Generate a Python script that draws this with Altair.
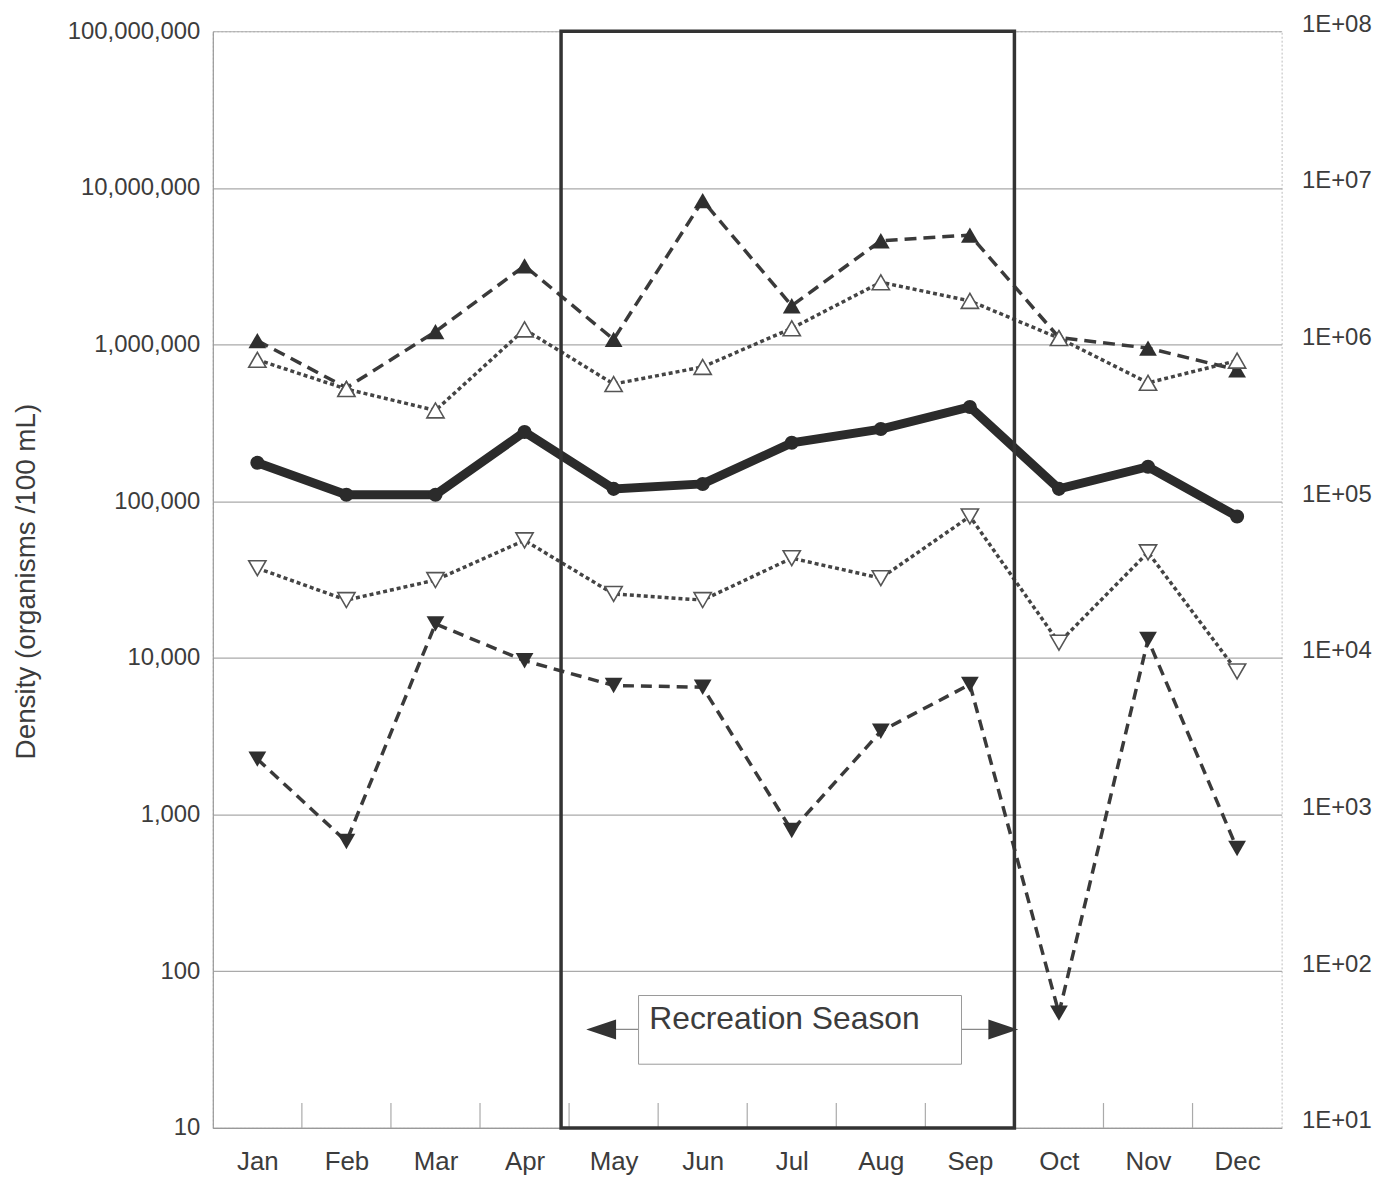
import altair as alt
import pandas as pd

# ---------------- data ----------------
months = ["Jan", "Feb", "Mar", "Apr", "May", "Jun", "Jul", "Aug", "Sep", "Oct", "Nov", "Dec"]
up_filled = [1.06e6, 5.3e5, 1.21e6, 3.18e6, 1.08e6, 8.3e6, 1.77e6, 4.6e6, 5.0e6, 1.11e6, 9.5e5, 6.9e5]
up_open = [8.0e5, 5.2e5, 3.8e5, 1.25e6, 5.6e5, 7.2e5, 1.27e6, 2.5e6, 1.9e6, 1.1e6, 5.7e5, 7.9e5]
mean_line = [1.76e5, 1.1e5, 1.1e5, 2.77e5, 1.2e5, 1.29e5, 2.36e5, 2.89e5, 4.0e5, 1.2e5, 1.66e5, 8.0e4]
down_open = [3.74e4, 2.34e4, 3.14e4, 5.63e4, 2.56e4, 2.34e4, 4.33e4, 3.23e4, 8.0e4, 1.25e4, 4.72e4, 8.2e3]
down_filled = [2260, 673, 16500, 9600, 6670, 6500, 791, 3400, 6770, 54, 13100, 607]

y_ticks = [10, 100, 1000, 10000, 100000, 1000000, 10000000, 100000000]
season_label = "Recreation Season"

# annotation geometry (in month-index / data units)
season_box = {"x": 3.41, "x2": 8.5, "y": 10, "y2": 1e8}
label_box = {"x": 4.28, "x2": 7.906, "y": 25.5, "y2": 70}
label_text = {"x": 4.40, "y": 43}
arrow_y = 42.5
arrow_left = {"tip": 3.86, "box": 4.28}
arrow_right = {"tip": 8.375, "box": 7.906}
tick_pos = [i + 0.5 for i in range(11)]

W, H = 1075, 1103
PAD = {"left": 206, "top": 20, "right": 107, "bottom": 50}

idx = list(range(len(months)))


def frame(vals):
    return pd.DataFrame({"idx": idx, "month": months, "value": vals})


xscale = alt.Scale(domain=[-0.5, 11.5], nice=False, zero=False)
yscale = alt.Scale(type="log", domain=[10, 1e8], nice=False)

month_expr = "[" + ",".join("'%s'" % m for m in months) + "][round(datum.value)]"

x_axis = alt.Axis(
    values=idx, labelExpr=month_expr, ticks=False, grid=False,
    domainColor="#999", domainWidth=1.2, labelFontSize=26, labelColor="#3c3c3c",
    labelPadding=21, title=None)
y_axis = alt.Axis(
    values=y_ticks, format=",.0f", grid=True, gridColor="#aaa", gridWidth=1.2,
    ticks=False, domainColor="#999", domainWidth=1.2, labelFontSize=24,
    labelColor="#3c3c3c", labelPadding=13,
    title="Density (organisms /100 mL)", titleFontSize=28, titleFontWeight="normal",
    titleColor="#3c3c3c", titleAngle=270, titleX=-187, titleY=553,
    titleAlign="center", titleBaseline="middle")


def X(field="idx:Q"):
    return alt.X(field, scale=xscale, axis=x_axis)


def Y(field="value:Q"):
    return alt.Y(field, scale=yscale, axis=y_axis)


# inward tick marks on the month axis (band boundaries)
ticks = alt.Chart(pd.DataFrame({"t": tick_pos})).mark_rule(color="#aaa", strokeWidth=1.2).encode(
    x=X("t:Q"), y=alt.value(H), y2=alt.value(H - 25))


def line_layer(vals, dash, width, color):
    kw = dict(color=color, strokeWidth=width)
    if dash:
        kw["strokeDash"] = dash
    return alt.Chart(frame(vals)).mark_line(**kw).encode(x=X(), y=Y())


def point_layer(vals, shape, filled, size, color):
    if filled:
        mk = alt.Chart(frame(vals)).mark_point(shape=shape, filled=True, size=size,
                                               color=color, opacity=1)
    else:
        mk = alt.Chart(frame(vals)).mark_point(shape=shape, filled=True, size=size,
                                               fill="white", stroke="#555",
                                               strokeWidth=1.6, opacity=1)
    return mk.encode(x=X(), y=Y())


lines = [
    line_layer(up_filled, [12, 7], 3.5, "#3a3a3a"),
    line_layer(up_open, [4, 3], 3.5, "#444"),
    line_layer(down_open, [4, 3], 3.5, "#444"),
    line_layer(down_filled, [11, 7], 3.5, "#3a3a3a"),
    line_layer(mean_line, None, 9, "#2b2b2b"),
]
points = [
    point_layer(up_filled, "triangle-up", True, 320, "#2f2f2f"),
    point_layer(up_open, "triangle-up", False, 300, "#555"),
    point_layer(down_open, "triangle-down", False, 300, "#555"),
    point_layer(down_filled, "triangle-down", True, 320, "#2f2f2f"),
    point_layer(mean_line, "circle", True, 200, "#2b2b2b"),
]

# recreation-season frame
box = alt.Chart(pd.DataFrame([season_box])).mark_rect(
    fillOpacity=0, stroke="#333", strokeWidth=3.5).encode(
    x=X("x:Q"), x2="x2:Q", y=Y("y:Q"), y2="y2:Q")

# arrows + label box
arrow_lines = alt.Chart(pd.DataFrame({
    "x": [arrow_left["tip"], arrow_right["box"]],
    "x2": [arrow_left["box"], arrow_right["tip"]],
    "y": [arrow_y, arrow_y]})).mark_rule(color="#888", strokeWidth=1.2).encode(
    x=X("x:Q"), x2="x2:Q", y=Y("y:Q"))

lab_box = alt.Chart(pd.DataFrame([label_box])).mark_rect(
    fill="white", stroke="#999", strokeWidth=1).encode(
    x=X("x:Q"), x2="x2:Q", y=Y("y:Q"), y2="y2:Q")

head_l = alt.Chart(pd.DataFrame({"x": [arrow_left["tip"]], "y": [arrow_y]})).mark_point(
    shape="M-1,0L1,-0.67L1,0.67Z", filled=True, size=900, color="#333", opacity=1).encode(
    x=X("x:Q"), y=Y("y:Q"))
head_r = alt.Chart(pd.DataFrame({"x": [arrow_right["tip"]], "y": [arrow_y]})).mark_point(
    shape="M1,0L-1,-0.67L-1,0.67Z", filled=True, size=900, color="#333", opacity=1).encode(
    x=X("x:Q"), y=Y("y:Q"))

text = alt.Chart(pd.DataFrame([{**label_text, "t": season_label}])).mark_text(
    align="left", baseline="alphabetic", fontSize=32, color="#3c3c3c").encode(
    x=X("x:Q"), y=Y("y:Q"), text="t:N")

main = alt.layer(ticks, *lines, *points, box, arrow_lines, lab_box,
                 head_l, head_r, text)

right_axis = alt.Chart(pd.DataFrame({"v": [10, 1e8]})).mark_point(opacity=0).encode(
    y=alt.Y("v:Q", scale=yscale, axis=alt.Axis(
        orient="right", values=y_ticks,
        labelExpr="(log(datum.value)/LN10 < 9.5 ? '1E+0' : '1E+') + round(log(datum.value)/LN10)",
        grid=False, ticks=False, domain=False, labelFontSize=24, labelColor="#3c3c3c",
        labelBaseline="alphabetic", labelPadding=20, title=None)))

chart = alt.layer(main, right_axis).resolve_scale(y="independent").properties(
    width=W, height=H, padding=PAD, autosize=alt.AutoSizeParams(type="none"),
    background="white",
).configure(font="Liberation Sans").configure_view(stroke="#bbb", strokeDash=[2, 2])

chart.save("out.html", embed_options={"renderer": "svg", "actions": False})
